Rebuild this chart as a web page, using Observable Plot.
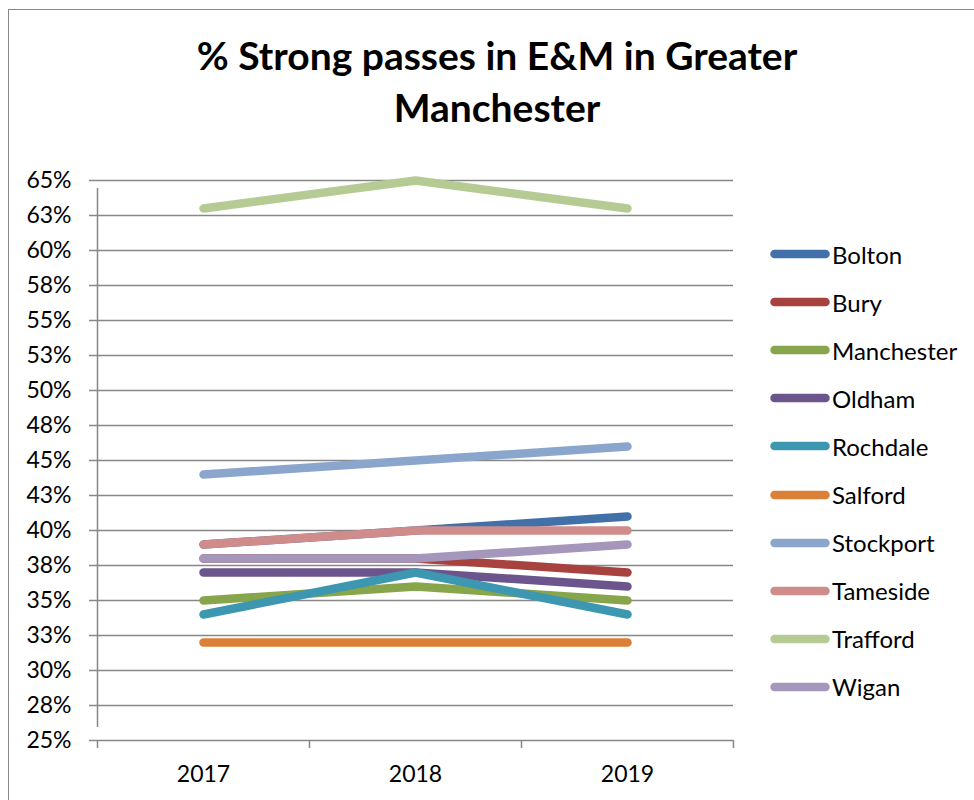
<!DOCTYPE html>
<html>
<head>
<meta charset="utf-8">
<script src="https://cdn.jsdelivr.net/npm/d3@7"></script>
<script src="https://cdn.jsdelivr.net/npm/@observablehq/plot@0.6"></script>
<style>
html, body { margin: 0; padding: 0; background: #fff; overflow: hidden; width: 974px; height: 800px; }
body { font-family: Lato, "Open Sans", sans-serif; color: #000; position: relative; }
#frame { position: absolute; left: 8px; top: 9px; width: 1000px; height: 840px; border: 1.5px solid #878787; box-sizing: border-box; }
#title { position: absolute; left: 0; top: 29px; width: 994px; text-align: center; font-weight: bold; font-size: 39px; line-height: 52px; }
#chart { position: absolute; left: 0; top: 150px; }
.item { position: absolute; left: 770px; height: 30px; display: flex; align-items: center; font-size: 24px; white-space: nowrap; }
.item svg { display: block; margin-right: 2px; }
</style>
</head>
<body>
<div id="frame"></div>
<div id="title">% Strong passes in E&amp;M in Greater<br>Manchester</div>
<div id="chart"></div>
<div id="legend"></div>
<script>
// ---- Data ----
const years = [2017, 2018, 2019];
const areas = ["Bolton", "Bury", "Manchester", "Oldham", "Rochdale", "Salford", "Stockport", "Tameside", "Trafford", "Wigan"];
const bolton     = [39, 40, 41];
const bury       = [38, 38, 37];
const manchester = [35, 36, 35];
const oldham     = [37, 37, 36];
const rochdale   = [34, 37, 34];
const salford    = [32, 32, 32];
const stockport  = [44, 45, 46];
const tameside   = [39, 40, 40];
const trafford   = [63, 65, 63];
const wigan      = [38, 38, 39];
const yTicks = [25, 27.5, 30, 32.5, 35, 37.5, 40, 42.5, 45, 47.5, 50, 52.5, 55, 57.5, 60, 62.5, 65];
const yTickLabels = ["25%", "28%", "30%", "33%", "35%", "38%", "40%", "43%", "45%", "48%", "50%", "53%", "55%", "58%", "60%", "63%", "65%"];
const xBoundaries = [2016.5, 2017.5, 2018.5, 2019.5];

// ---- Style ----
const palette = ["#4270A8", "#A8423F", "#87A54A", "#6C548C", "#3E97B0", "#DA8037", "#8BA6CD", "#CF8C8B", "#B5CB93", "#A596BB"];
const gray = "#878787";

const seriesValues = [bolton, bury, manchester, oldham, rochdale, salford, stockport, tameside, trafford, wigan];
const rows = areas.flatMap((area, i) => years.map((year, j) => ({area, year, value: seriesValues[i][j]})));

const chart = Plot.plot({
  width: 974,
  height: 650,
  marginTop: 30,
  marginBottom: 60,
  marginLeft: 97,
  marginRight: 241,
  x: {type: "linear", domain: [2016.5, 2019.5]},
  y: {domain: [25, 65]},
  color: {domain: areas, range: palette},
  style: {fontFamily: "Lato, 'Open Sans', sans-serif", fontSize: "23px", color: "#000", background: "transparent", overflow: "visible"},
  marks: [
    Plot.gridY(yTicks, {stroke: gray, strokeOpacity: 1, strokeWidth: 1.5}),
    Plot.axisY(yTicks, {tickSize: 8, tickPadding: 18, stroke: gray, strokeWidth: 1.5, tickFormat: (d, i) => yTickLabels[i], fill: "#000", fontSize: 23, label: null}),
    Plot.ruleX([2016.5], {y1: 25, y2: 65, insetTop: -13, insetBottom: -8, stroke: gray, strokeWidth: 1.5}),
    Plot.axisX(xBoundaries, {tickSize: 8, stroke: gray, strokeWidth: 1.5, tickFormat: () => "", label: null}),
    Plot.axisX(years, {tickSize: 0, tickPadding: 25, tickFormat: d => String(d), fill: "#000", fontSize: 23, label: null}),
    Plot.line(rows, {x: "year", y: "value", z: "area", stroke: "area", strokeWidth: 8.5, strokeLinecap: "round", strokeLinejoin: "round"})
  ]
});
document.getElementById("chart").appendChild(chart);

// ---- Legend ----
const legend = document.getElementById("legend");
areas.forEach((area, i) => {
  const item = document.createElement("div");
  item.className = "item";
  item.style.top = (254 - 15 + i * 48.1) + "px";
  item.innerHTML = `<svg width="60" height="12"><line x1="4.5" y1="6" x2="55.5" y2="6" stroke="${palette[i]}" stroke-width="8.5" stroke-linecap="round"/></svg><span>${area}</span>`;
  legend.appendChild(item);
});
</script>
</body>
</html>
